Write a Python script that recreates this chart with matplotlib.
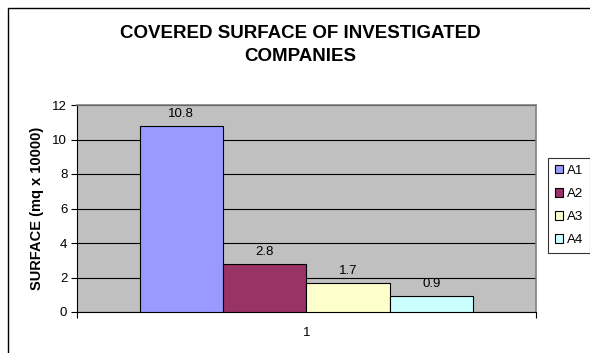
import matplotlib.pyplot as plt
import matplotlib.patches as mpatches
import numpy as np

plt.rcParams['font.family'] = ['Liberation Sans', 'DejaVu Sans']

series = ['A1', 'A2', 'A3', 'A4']
values = [10.8, 2.8, 1.7, 0.9]
colors = ['#9999FF', '#993366', '#FFFFCC', '#CCFFFF']
category = ['1']

W, H = 590, 353
fig = plt.figure(figsize=(W / 100, H / 100), dpi=100)

# outer chart border (runs off the right and bottom edges)
fig.patches.append(mpatches.Rectangle((7.5 / W, -0.05), 0.99, (H - 8) / H + 0.05,
                                      transform=fig.transFigure, fill=False,
                                      edgecolor='black', linewidth=1.0))

ax = fig.add_axes([77 / W, (H - 312) / H, 459 / W, 207 / H])
ax.set_facecolor('#C0C0C0')

bw = 83.5 / 459
start = 0.5 - 2 * bw
for i, (s, v, c) in enumerate(zip(series, values, colors)):
    x = start + i * bw
    ax.bar(x, v, width=bw, align='edge', color=c, edgecolor='black', linewidth=0.8,
           label=s, zorder=3)
    ax.text(x + bw / 2, v + 0.35, f'{v:g}', ha='center', va='bottom', fontsize=9.5, zorder=4)

ax.set_xlim(0, 1)
ax.set_ylim(0, 12)
ax.set_yticks(np.arange(0, 13, 2))
ax.yaxis.grid(True, color='black', linewidth=0.8, zorder=1)
ax.tick_params(axis='y', direction='out', length=4, labelsize=9.5, pad=3, width=0.8)
ax.set_xticks([0, 1])
ax.set_xticklabels(['', ''])
ax.set_xticks([0.5], minor=True)
ax.set_xticklabels(category, minor=True, fontsize=9.5)
ax.tick_params(axis='x', which='major', direction='out', length=4, width=0.8)
ax.tick_params(axis='x', which='minor', length=0, pad=11)

for side in ['top', 'right']:
    ax.spines[side].set_color('#808080')
    ax.spines[side].set_linewidth(1.2)
ax.spines['left'].set_linewidth(0.8)
ax.spines['bottom'].set_linewidth(0.8)

ax.set_ylabel('SURFACE (mq x 10000)', fontsize=10.5, fontweight='bold', labelpad=6)

fig.text(300 / W, 1 - 45 / H, 'COVERED SURFACE OF INVESTIGATED\nCOMPANIES', ha='center',
         va='center', fontsize=13.5, fontweight='bold', linespacing=1.45)

leg = fig.legend(loc='upper left', bbox_to_anchor=(548 / W, 1 - 158 / H), fontsize=9.5,
                 frameon=True, fancybox=False, edgecolor='black', handlelength=0.65,
                 handleheight=0.65, handletextpad=0.3, borderpad=0.5, labelspacing=0.85,
                 borderaxespad=0)
leg.get_frame().set_linewidth(0.8)

fig.savefig('out.png', dpi=100)
